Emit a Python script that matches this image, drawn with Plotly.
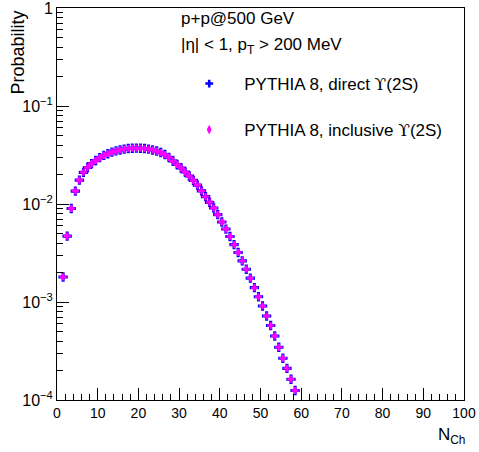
import plotly.graph_objects as go

# ---- data ----
n_ch = [1.5 + i for i in range(58)]
direct = [1.80e-3, 4.70e-3, 9.0e-3, 1.355e-2, 1.75e-2, 2.10e-2, 2.36e-2, 2.58e-2, 2.78e-2, 2.97e-2,
          3.13e-2, 3.26e-2, 3.38e-2, 3.48e-2, 3.56e-2, 3.63e-2, 3.68e-2, 3.71e-2, 3.72e-2, 3.71e-2,
          3.68e-2, 3.63e-2, 3.56e-2, 3.47e-2, 3.35e-2, 3.20e-2, 2.99e-2, 2.75e-2, 2.53e-2, 2.33e-2,
          2.12e-2, 1.93e-2, 1.74e-2, 1.56e-2, 1.36e-2, 1.19e-2, 1.04e-2, 9.1e-3, 7.8e-3, 6.55e-3,
          5.55e-3, 4.66e-3, 3.85e-3, 3.20e-3, 2.63e-3, 2.16e-3, 1.75e-3, 1.40e-3, 1.13e-3, 9.1e-4,
          7.2e-4, 5.75e-4, 4.5e-4, 3.45e-4, 2.67e-4, 2.1e-4, 1.63e-4, 1.25e-4]
inclusive = [1.80e-3, 4.70e-3, 9.0e-3, 1.355e-2, 1.75e-2, 2.10e-2, 2.36e-2, 2.58e-2, 2.78e-2, 2.97e-2,
             3.13e-2, 3.26e-2, 3.38e-2, 3.48e-2, 3.56e-2, 3.63e-2, 3.68e-2, 3.71e-2, 3.72e-2, 3.71e-2,
             3.68e-2, 3.63e-2, 3.56e-2, 3.47e-2, 3.35e-2, 3.20e-2, 2.99e-2, 2.75e-2, 2.53e-2, 2.33e-2,
             2.12e-2, 1.93e-2, 1.74e-2, 1.56e-2, 1.36e-2, 1.19e-2, 1.04e-2, 9.1e-3, 7.8e-3, 6.55e-3,
             5.55e-3, 4.66e-3, 3.85e-3, 3.20e-3, 2.63e-3, 2.16e-3, 1.75e-3, 1.40e-3, 1.13e-3, 9.1e-4,
             7.2e-4, 5.75e-4, 4.5e-4, 3.45e-4, 2.67e-4, 2.1e-4, 1.63e-4, 1.25e-4]
UPS = "<span style=\"font-family:'DejaVu Serif'\">\u03d2</span>"
label_direct = "PYTHIA 8, direct " + UPS + "(2S)"
label_inclusive = "PYTHIA 8, inclusive " + UPS + "(2S)"
x_major = [0, 10, 20, 30, 40, 50, 60, 70, 80, 90, 100]
y_major = [1e-4, 1e-3, 1e-2, 1e-1, 1]
y_major_text = ["10<sup>\u22124</sup>", "10<sup>\u22123</sup>", "10<sup>\u22122</sup>", "10<sup>\u22121</sup>", "1"]

# ---- layout geometry (pixels) ----
W, H = 479, 452
L, R, T, B = 56.5, 464.5, 8, 400
PW, PH = R - L, B - T

def px(xp):
    return (xp - L) / PW

def py(yp):
    return (B - yp) / PH

FONT = "Liberation Sans, Arial, Helvetica, sans-serif"

fig = go.Figure()
fig.add_trace(go.Scatter(x=n_ch, y=direct, mode="markers", name=label_direct,
                         marker=dict(symbol="cross", size=7.8, color="#0000ff", line=dict(width=0)),
                         showlegend=False))
fig.add_trace(go.Scatter(x=n_ch, y=inclusive, mode="markers", name=label_inclusive,
                         marker=dict(symbol="cross", size=6.0, color="#ff00ff", line=dict(width=0)),
                         showlegend=False))
# legend entries
fig.add_trace(go.Scatter(x=[None], y=[None], mode="markers", name=label_direct, legend="legend",
                         marker=dict(symbol="cross", size=6.5, color="#0000ff")))
fig.add_trace(go.Scatter(x=[None], y=[None], mode="markers", name=label_inclusive, legend="legend2",
                         marker=dict(symbol="diamond-tall", size=7, color="#ff00ff")))

minor_y = []
for e in range(-4, 0):
    for m in range(2, 10):
        minor_y.append(m * 10 ** e)

fig.update_layout(
    template="none",
    width=W, height=H,
    margin=dict(l=L, r=W - R, t=T, b=H - B, pad=0, autoexpand=False),
    paper_bgcolor="white", plot_bgcolor="white",
    font=dict(family=FONT, color="black", size=14),
    xaxis=dict(range=[0, 100], showline=True, linecolor="black", linewidth=1, mirror=True,
               automargin=False, ticklabeloverflow="allow",
               ticks="inside", ticklen=12, tickwidth=1, tickcolor="black",
               tickmode="array", tickvals=x_major, showgrid=False, zeroline=False,
               tickfont=dict(size=14, family=FONT),
               minor=dict(ticks="inside", ticklen=6, tickwidth=1, tickcolor="black", dtick=2, showgrid=False)),
    yaxis=dict(type="log", range=[-4, 0], showline=True, linecolor="black", linewidth=1, mirror=True,
               automargin=False, ticklabeloverflow="allow",
               ticks="inside", ticklen=12, tickwidth=1, tickcolor="black",
               tickmode="array", tickvals=y_major, ticktext=y_major_text, showgrid=False, zeroline=False,
               tickfont=dict(size=16, family=FONT),
               minor=dict(ticks="inside", ticklen=6, tickwidth=1, tickcolor="black",
                          tickmode="array", tickvals=minor_y, showgrid=False)),
    legend=dict(x=px(174), y=py(84), xanchor="left", yanchor="middle", bgcolor="rgba(0,0,0,0)",
                font=dict(size=17, family=FONT), itemwidth=60, borderwidth=0),
    legend2=dict(x=px(174), y=py(130), xanchor="left", yanchor="middle", bgcolor="rgba(0,0,0,0)",
                 font=dict(size=17, family=FONT), itemwidth=60, borderwidth=0),
    annotations=[
        dict(text="p+p@500 GeV", x=px(179), y=py(19), xref="paper", yref="paper",
             xanchor="left", yanchor="middle", showarrow=False, font=dict(size=17, family=FONT)),
        dict(text="|\u03b7| < 1, p<sub>T</sub> > 200 MeV", x=px(179), y=py(46), xref="paper", yref="paper",
             xanchor="left", yanchor="middle", showarrow=False, font=dict(size=17, family=FONT)),
        dict(text="Probability", x=px(17), y=py(9), xref="paper", yref="paper", textangle=-90,
             xanchor="center", yanchor="top", showarrow=False, font=dict(size=18, family=FONT)),
        dict(text="N<sub>Ch</sub>", x=px(468), y=py(436), xref="paper", yref="paper",
             xanchor="right", yanchor="middle", showarrow=False, font=dict(size=17, family=FONT)),
    ],
)

fig.write_html("out.html", config={"displayModeBar": False},
               post_script="document.body.style.margin='0';document.body.style.padding='0';")
